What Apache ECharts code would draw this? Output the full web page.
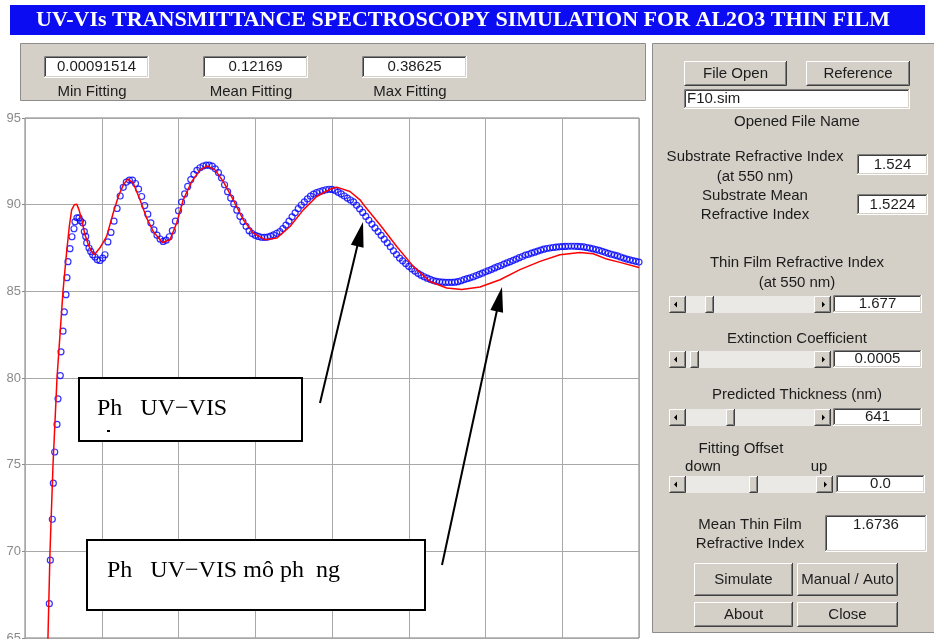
<!DOCTYPE html>
<html>
<head>
<meta charset="utf-8">
<script src="https://cdn.jsdelivr.net/npm/echarts@6/dist/echarts.min.js"></script>
<style>
  html, body { margin: 0; padding: 0; background: #ffffff; }
  #main { width: 934px; height: 639px; }
</style>
</head>
<body>
<div id="main"></div>
<script>
// ---- Axes -------------------------------------------------------------
const wavelengthRange = [300, 1100];   // nm
const wavelengthStep = 100;
const transRange = [65, 95];           // %
const transStep = 5;

// ---- Measured spectrum (circles): [wavelength nm, transmittance %] ----
const measured = [
  [331.7,66.98],[333.0,69.49],[335.6,71.85],[336.9,73.93],[338.7,75.73],[341.7,77.32],
  [343.0,78.80],[346.0,80.14],[346.9,81.51],[349.5,82.70],[351.2,83.81],[353.4,84.81],
  [354.7,85.79],[356.0,86.71],[358.6,87.46],[361.2,88.15],[363.8,88.61],[365.1,89.01],
  [367.7,89.24],[370.4,89.24],[372.3,89.07],[375.2,88.95],[377.3,88.45],[379.1,88.17],
  [380.4,87.79],[383.4,87.50],[385.6,87.30],[388.2,87.11],[391.2,86.98],[394.2,86.82],
  [397.7,86.78],[401.2,86.92],[404.2,87.11],
  [408,87.85],[412,88.40],[416,89.05],[420,89.78],[424,90.50],[428,91.00],[432,91.30],
  [436,91.42],[440,91.42],[444,91.22],[448,90.90],[452,90.47],[456,89.95],[460,89.45],
  [464,88.95],[468,88.55],[472,88.24],[476,88.02],[480,87.88],[484,87.95],[488,88.15],
  [492,88.50],[496,89.05],[500,89.65],[504,90.15],[508,90.62],[512,91.05],[516,91.45],
  [520,91.75],[524,91.98],[528,92.13],[532,92.23],[536,92.28],[540,92.28],[544,92.22],
  [548,92.07],[552,91.85],[556,91.55],[560,91.15],[564,90.75],[568,90.38],[572,90.04],
  [576,89.68],[580,89.33],[584,89.03],[588,88.75],[592,88.50],[596,88.33],[600,88.23],
  [604,88.17],[608,88.12],[612,88.11],[616,88.13],[620,88.18],[624,88.26],[628,88.35],
  [632,88.45],[636,88.62],[640,88.82],[644,89.05],[648,89.30],[652,89.53],[656,89.77],
  [660,89.98],[664,90.16],[668,90.33],[672,90.49],[676,90.61],[680,90.70],[684,90.76],
  [688,90.81],[692,90.86],[696,90.89],[700,90.88],[704,90.82],[708,90.72],[712,90.62],
  [716,90.50],[720,90.38],[724,90.27],[728,90.16],[732,89.96],[736,89.76],[740,89.55],
  [744,89.32],[748,89.10],[752,88.88],[756,88.66],[760,88.45],[764,88.23],[768,88.01],
  [772,87.79],[776,87.57],[780,87.34],[784,87.12],[788,86.92],[792,86.76],[796,86.60],
  [800,86.44],[804,86.30],[808,86.17],[812,86.04],[816,85.93],[820,85.84],[824,85.76],
  [828,85.69],[832,85.62],[836,85.58],[840,85.55],[844,85.53],[848,85.52],[852,85.52],
  [856,85.52],[860,85.53],[864,85.56],[868,85.61],[872,85.67],[876,85.73],[880,85.78],
  [884,85.84],[888,85.91],[892,85.98],[896,86.05],[900,86.13],[904,86.20],[908,86.27],
  [912,86.35],[916,86.42],[920,86.49],[924,86.57],[928,86.64],[932,86.71],[936,86.79],
  [940,86.86],[944,86.94],[948,87.01],[952,87.09],[956,87.14],[960,87.20],[964,87.26],
  [968,87.32],[972,87.38],[976,87.43],[980,87.47],[984,87.50],[988,87.53],[992,87.55],
  [996,87.57],[1000,87.58],[1004,87.59],[1008,87.60],[1012,87.60],[1016,87.60],[1020,87.59],
  [1024,87.58],[1028,87.56],[1032,87.53],[1036,87.49],[1040,87.45],[1044,87.41],[1048,87.36],
  [1052,87.31],[1056,87.25],[1060,87.19],[1064,87.14],[1068,87.09],[1072,87.04],[1076,86.98],
  [1080,86.92],[1084,86.86],[1088,86.82],[1092,86.77],[1096,86.73],[1100,86.69]
];

// ---- Simulated spectrum (red line): [wavelength nm, transmittance %] --
const simulated = [
  [329.7,64.60],[332.6,70.00],[336.5,75.00],[341.7,80.00],[349.5,85.00],[352.1,86.25],
  [354.3,87.30],[357.7,88.74],[360.8,89.70],[364.2,89.99],[367.4,90.03],[370.4,89.70],
  [373.9,89.13],[378.2,88.26],[382.5,87.69],[386.0,87.34],[390.3,87.11],[397.7,87.51],
  [406.4,88.17],[415.0,89.53],[421.6,90.47],[428.1,91.14],[433.8,91.49],[441.1,91.24],
  [449.8,90.28],[458.6,89.22],[467.2,88.45],[478.9,87.82],[488.9,87.98],[497.6,88.94],
  [506.2,90.28],[517.2,91.33],[528.0,92.01],[537.5,92.24],[547.6,92.01],[558.4,91.33],
  [571.4,90.28],[584.4,89.13],[597.5,88.36],[612.7,87.98],[627.9,88.07],[645.3,88.74],
  [662.6,89.70],[680.1,90.47],[697.4,90.89],[706.1,91.01],[723.4,90.76],[736.5,90.28],
  [738.4,90.36],[743.0,89.89],[762.5,88.84],[784.3,87.59],[805.9,86.44],[827.7,85.57],
  [849.4,85.19],[869.0,85.10],[892.8,85.25],[918.9,85.67],[944.9,86.25],[971.0,86.73],
  [997.0,87.11],[1023.1,87.24],[1040.4,87.17],[1057.9,86.86],[1075.2,86.67],[1100,86.38]
];

// ---- Panel texts ------------------------------------------------------
const appTitle = 'UV-VIs TRANSMITTANCE SPECTROSCOPY SIMULATION FOR AL2O3 THIN FILM';
const fitValues = ['0.00091514', '0.12169', '0.38625'];
const fitLabels = ['Min Fitting', 'Mean Fitting', 'Max Fitting'];
const fileName = 'F10.sim';
const substrateIndex = '1.524';
const substrateMeanIndex = '1.5224';
const filmIndex = '1.677';
const extinction = '0.0005';
const thickness = '641';
const offset = '0.0';
const meanFilmIndex = '1.6736';
const noteMeasured = 'Ph   UV\u2212VIS';
const noteSimulated = 'Ph   UV\u2212VIS mô ph  ng';

// ---- Widget drawing helpers ------------------------------------------
const SANS = '"Liberation Sans", Arial, sans-serif';
const SERIF = '"Liberation Serif", "Times New Roman", serif';
const UI = '15px ' + SANS;
const FACE = '#d4d0c8';
const G = [];

function rect(x, y, w, h, fill, stroke, lw, z) {
  G.push({ type: 'rect', silent: true, z: z || 1,
    shape: { x: x, y: y, width: w, height: h },
    style: { fill: fill, stroke: stroke || null, lineWidth: lw || 1 } });
}
function poly(points, stroke, lw, z) {
  G.push({ type: 'polyline', silent: true, z: z || 2,
    shape: { points: points },
    style: { stroke: stroke, lineWidth: lw || 1, fill: null } });
}
function text(x, y, s, opt) {
  opt = opt || {};
  const al = opt.align || 'center';
  G.push({ type: 'text', silent: true, z: opt.z || 3, x: x, y: y,
    scaleX: opt.sx || 1,
    style: { text: s, font: opt.font || UI, fill: opt.color || '#1c1c1c',
      align: al, textAlign: al, verticalAlign: 'middle', textVerticalAlign: 'middle' } });
}
function raised(x, y, w, h) {
  rect(x, y, w, h, FACE);
  poly([[x + .5, y + h - 1], [x + .5, y + .5], [x + w - 1, y + .5]], '#ffffff');
  poly([[x + .5, y + h - .5], [x + w - .5, y + h - .5], [x + w - .5, y]], '#404040');
  poly([[x + 1.5, y + h - 1.5], [x + w - 1.5, y + h - 1.5], [x + w - 1.5, y + 1]], '#808080');
}
function button(x, y, w, h, s) {
  raised(x, y, w, h);
  text(x + w / 2, y + h / 2, s);
}
function field(x, y, w, h, s, align, ty) {
  rect(x, y, w, h, '#ffffff');
  poly([[x + .5, y + h - 1], [x + .5, y + .5], [x + w - 1, y + .5]], '#808080');
  poly([[x + 1.5, y + h - 2], [x + 1.5, y + 1.5], [x + w - 2, y + 1.5]], '#404040');
  poly([[x + .5, y + h - .5], [x + w - .5, y + h - .5], [x + w - .5, y]], '#ffffff');
  poly([[x + 1.5, y + h - 1.5], [x + w - 1.5, y + h - 1.5], [x + w - 1.5, y + 1]], FACE);
  if (align === 'left') text(x + 3, ty || (y + h / 2), s, { align: 'left' });
  else text(x + w / 2, ty || (y + h / 2), s);
}
function slider(x, y, w, h, thumbX) {
  rect(x, y, w, h, '#ebe9e5');
  raised(x, y, h, h);
  raised(x + w - h, y, h, h);
  G.push({ type: 'polygon', silent: true, z: 3,
    shape: { points: [[x + 5, y + h / 2], [x + 8, y + h / 2 - 3], [x + 8, y + h / 2 + 3]] },
    style: { fill: '#000' } });
  const rx = x + w - h;
  G.push({ type: 'polygon', silent: true, z: 3,
    shape: { points: [[rx + h - 6, y + h / 2], [rx + h - 9, y + h / 2 - 3], [rx + h - 9, y + h / 2 + 3]] },
    style: { fill: '#000' } });
  raised(thumbX, y, 9, h);
}
function panel(x, y, w, h) {
  rect(x + .5, y + .5, w, h, FACE, '#8c8c8c', 1, 0);
}
function arrow(x1, y1, x2, y2) {
  const dx = x2 - x1, dy = y2 - y1, L = Math.hypot(dx, dy);
  const ux = dx / L, uy = dy / L, nx = -uy, ny = ux;
  const len = 25, hw = 6.5;
  const bx = x2 - ux * len, by = y2 - uy * len;
  G.push({ type: 'line', silent: true, z: 20,
    shape: { x1: x1, y1: y1, x2: bx + ux * 4, y2: by + uy * 4 },
    style: { stroke: '#000', lineWidth: 2 } });
  G.push({ type: 'polygon', silent: true, z: 20,
    shape: { points: [[x2, y2], [bx + nx * hw, by + ny * hw], [bx - nx * hw, by - ny * hw]] },
    style: { fill: '#000' } });
}
function noteBox(x, y, w, h, s, tx, ty) {
  rect(x, y, w, h, '#ffffff', '#000000', 2, 20);
  text(tx, ty, s, { align: 'left', font: '24px ' + SERIF, color: '#000', z: 21 });
}

// Title bar
rect(10, 5, 915, 30, '#0c0cf2', null, 1, 1);
text(463, 20, appTitle, { font: 'bold 22px ' + SERIF, color: '#ffffff' });

// Fitting statistics panel
panel(20, 43, 625, 57);
const fitX = [44, 203, 362];
fitValues.forEach(function (v, i) {
  field(fitX[i], 56, 105, 22, v);
  text(fitX[i] + 48, 92, fitLabels[i]);
});

// Control panel
panel(652, 43, 290, 589);
button(684, 61, 103, 25, 'File Open');
button(806, 61, 104, 25, 'Reference');
field(684, 89, 226, 20, fileName, 'left');
text(797, 122, 'Opened File Name');
text(755, 157, 'Substrate Refractive Index');
text(755, 177, '(at 550 nm)');
field(857, 154, 71, 21, substrateIndex);
text(755, 196, 'Substrate Mean');
text(755, 215, 'Refractive Index');
field(857, 194, 71, 21, substrateMeanIndex);
text(797, 263, 'Thin Film Refractive Index');
text(797, 283, '(at 550 nm)');
slider(669, 296, 162, 17, 705);
field(833, 295, 89, 18, filmIndex);
text(797, 339, 'Extinction Coefficient');
slider(669, 351, 162, 17, 690);
field(833, 350, 89, 18, extinction);
text(797, 395, 'Predicted Thickness (nm)');
slider(669, 409, 162, 17, 726);
field(833, 408, 89, 18, thickness);
text(741, 449, 'Fitting Offset');
text(703, 467, 'down');
text(819, 467, 'up');
slider(669, 476, 164, 17, 749);
field(836, 475, 89, 18, offset);
text(750, 525, 'Mean Thin Film');
text(750, 544, 'Refractive Index');
field(825, 515, 102, 37, meanFilmIndex, null, 525);
button(694, 563, 99, 33, 'Simulate');
button(797, 563, 101, 33, 'Manual / Auto');
button(694, 602, 99, 25, 'About');
button(797, 602, 101, 25, 'Close');

// Notes pointing at the two curves
noteBox(79, 378, 223, 63, noteMeasured, 97, 409);
rect(107, 430, 3, 2, '#000', null, 1, 22);
noteBox(87, 540, 338, 70, noteSimulated, 107, 571);
arrow(320, 403, 363, 222);
arrow(442, 565, 502, 287);

// ---- Chart ------------------------------------------------------------
const chart = echarts.init(document.getElementById('main'), null, { renderer: 'canvas' });
chart.setOption({
  animation: false,
  backgroundColor: '#ffffff',
  grid: {
    left: 25, top: 118, right: 295, bottom: 1,
    show: true, borderColor: '#7a7a7a', borderWidth: 1, backgroundColor: '#ffffff',
    outerBoundsMode: 'none', containLabel: false
  },
  xAxis: {
    type: 'value', min: wavelengthRange[0], max: wavelengthRange[1], interval: wavelengthStep,
    axisLine: { show: false }, axisTick: { show: false }, axisLabel: { show: false },
    splitLine: { show: true, lineStyle: { color: '#a8a8a8', width: 1 } }
  },
  yAxis: {
    type: 'value', min: transRange[0], max: transRange[1], interval: transStep,
    axisLine: { show: false },
    axisTick: { show: true, length: 3, lineStyle: { color: '#8a8a8a' } },
    axisLabel: { show: true, margin: 4, color: '#8a8a8a', fontSize: 13, fontFamily: 'Liberation Sans' },
    splitLine: { show: true, lineStyle: { color: '#a8a8a8', width: 1 } }
  },
  series: [
    {
      name: 'measured', type: 'scatter', data: measured, z: 3,
      symbol: 'circle', symbolSize: 6,
      itemStyle: { color: 'rgba(0,0,0,0)', borderColor: '#0000ff', borderWidth: 1.2 }
    },
    {
      name: 'simulated', type: 'line', data: simulated, z: 4,
      showSymbol: false, symbol: 'none', clip: true,
      lineStyle: { color: '#ff0000', width: 1.5 }
    }
  ],
  graphic: { elements: G }
});
</script>
</body>
</html>
